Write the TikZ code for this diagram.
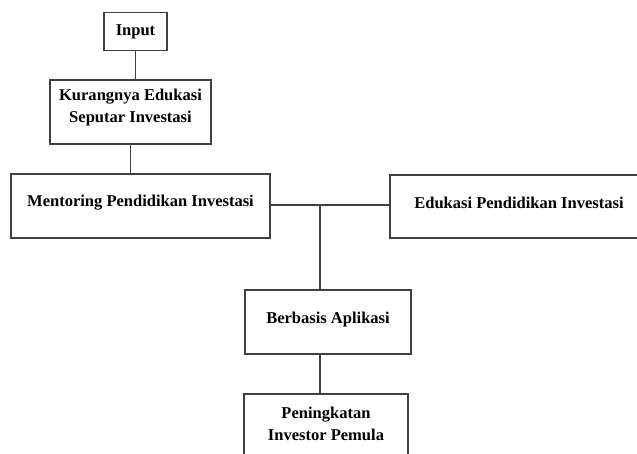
\documentclass[tikz,border=0pt]{standalone}
\usepackage{fontspec}
\setmainfont{Liberation Serif}
\usetikzlibrary{calc}

\tikzset{
	kotak/.style={draw=black!75, line width=0.6pt, align=center, font=\fontsize{9.4}{12.5}\selectfont\bfseries, inner sep=0pt},
	garis/.style={draw=black!75, line width=0.6pt}
}

\begin{document}
\begin{tikzpicture}[x=0.02cm, y=-0.02cm]
		\useasboundingbox (0,0) rectangle (637,454);
		\clip (0,0) rectangle (637,454);
		%
		\node (input) [kotak, minimum width=1.26cm, minimum height=0.76cm] at (135.5,31.5) {Input};
		\node (kurang) [kotak, minimum width=3.22cm, minimum height=1.28cm] at (130.5,112) {};
		\node (kurangtxt) [kotak, draw=none] at (130.5,108) {Kurangnya Edukasi\\Seputar Investasi};
		\node (mentor) [kotak, minimum width=5.18cm, minimum height=1.28cm] at (140.5,206) {};
		\node (mentortxt) [kotak, draw=none] at (140.5,202.5) {Mentoring Pendidikan Investasi};
		\node (edukasi) [kotak, minimum width=5.16cm, minimum height=1.26cm] at (519,206.5) {};
		\node (edukasitxt) [kotak, draw=none] at (519,202.5) {Edukasi Pendidikan Investasi};
		\node (aplikasi) [kotak, minimum width=3.32cm, minimum height=1.28cm] at (328,322) {};
		\node (aplikasitxt) [kotak, draw=none] at (328,320) {Berbasis Aplikasi};
		\node (pemula) [kotak, minimum width=3.28cm, minimum height=1.28cm] at (326,426) {};
		\node (pemulatxt) [kotak, draw=none] at (326,423.5) {Peningkatan\\Investor Pemula};
		%
		\coordinate (cabang) at (320,205);
		\draw [garis] (input.south) -- (input.south |- kurang.north);
		\draw [garis] (kurang.south) -- (kurang.south |- mentor.north);
		\draw [garis] (cabang -| mentor.east) -- (cabang -| edukasi.west);
		\draw [garis] (cabang) -- (cabang |- aplikasi.north);
		\draw [garis] (cabang |- aplikasi.south) -- (cabang |- pemula.north);
	\end{tikzpicture}
\end{document}
